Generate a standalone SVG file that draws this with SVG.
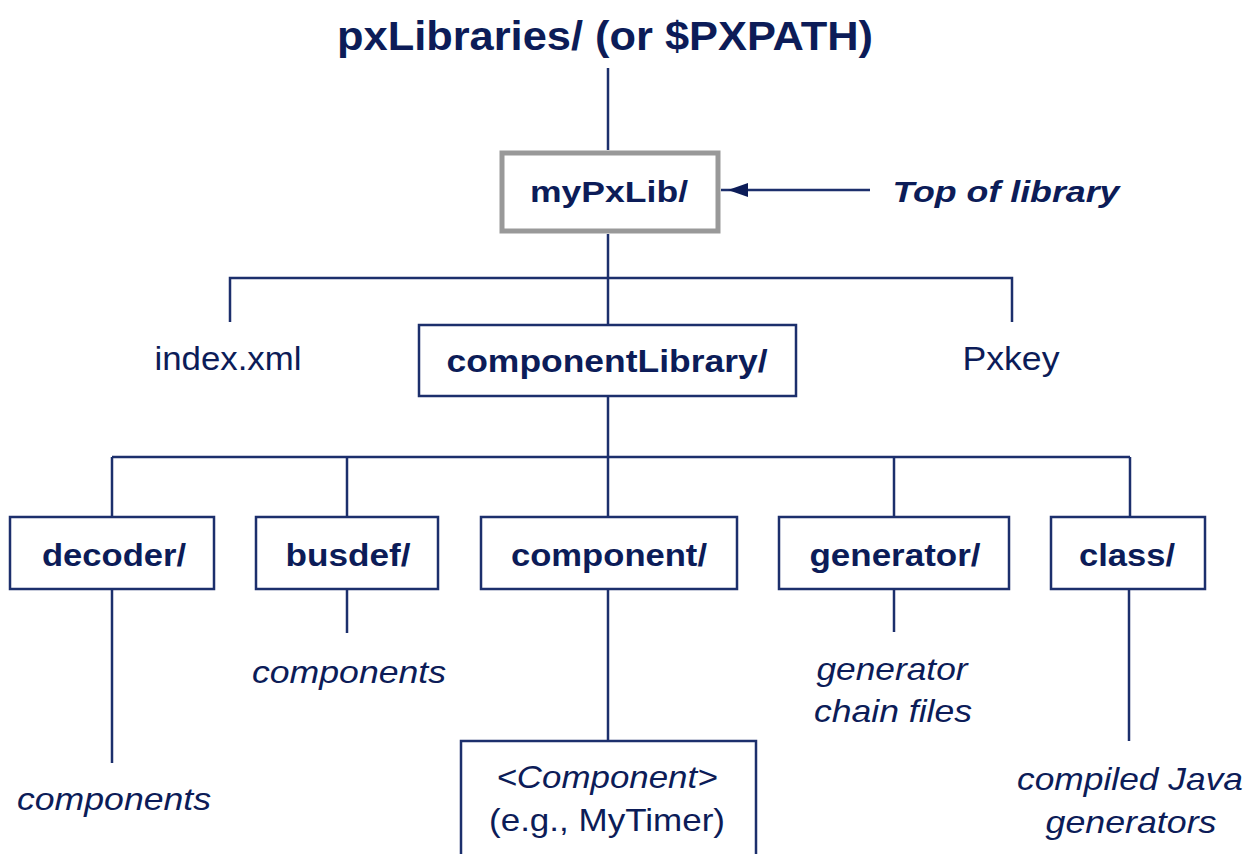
<svg xmlns="http://www.w3.org/2000/svg" width="1251" height="854" viewBox="0 0 1251 854">
<style>
  .t{font-family:"Liberation Sans",Arial,sans-serif;fill:#0c1c58;text-anchor:middle}
  .b{font-weight:bold}
  .i{font-style:italic}
  .box{fill:#fff;stroke:#1c2f6c;stroke-width:2.5}
  .ln{stroke:#1c2f6c;stroke-width:2.5;fill:none}
</style>
<defs>
  <marker id="ah" markerUnits="userSpaceOnUse" viewBox="-30 -10 30 20" refX="0" refY="0" markerWidth="30" markerHeight="20" orient="auto" overflow="visible">
    <path d="M-7,0 L-27,-7 L-27,7 z" fill="#0c1c58"/>
  </marker>
</defs>
<rect width="1251" height="854" fill="#fff"/>
<g id="connectors">
  <line class="ln" x1="608" y1="68" x2="608" y2="150"/>
  <line class="ln" x1="608" y1="234" x2="608" y2="325"/>
  <polyline class="ln" points="230,322 230,278 1012,278 1012,322"/>
  <line class="ln" x1="608" y1="396" x2="608" y2="517"/>
  <line class="ln" x1="112" y1="457" x2="1130" y2="457"/>
  <line class="ln" x1="112" y1="457" x2="112" y2="517"/>
  <line class="ln" x1="347" y1="457" x2="347" y2="517"/>
  <line class="ln" x1="894" y1="457" x2="894" y2="517"/>
  <line class="ln" x1="1130" y1="457" x2="1130" y2="517"/>
  <line class="ln" x1="112" y1="589" x2="112" y2="763"/>
  <line class="ln" x1="347" y1="589" x2="347" y2="633"/>
  <line class="ln" x1="608" y1="589" x2="608" y2="741"/>
  <line class="ln" x1="894" y1="589" x2="894" y2="632"/>
  <line class="ln" x1="1129" y1="589" x2="1129" y2="741"/>
  <line class="ln" x1="870" y1="190" x2="721" y2="190" marker-end="url(#ah)"/>
</g>
<g id="root"><text class="t b" x="605" y="50" font-size="40" textLength="536" lengthAdjust="spacingAndGlyphs">pxLibraries/ (or $PXPATH)</text></g>
<g id="myPxLib">
  <rect x="502" y="153" width="216" height="78" fill="#fff" stroke="#999" stroke-width="5"/>
  <text class="t b" x="609" y="202" font-size="30" textLength="158" lengthAdjust="spacingAndGlyphs">myPxLib/</text>
</g>
<g id="toplabel"><text class="t b i" x="1006" y="202" font-size="30" textLength="227" lengthAdjust="spacingAndGlyphs">Top of library</text></g>
<g id="index"><text class="t" x="228" y="370" font-size="34" textLength="147" lengthAdjust="spacingAndGlyphs">index.xml</text></g>
<g id="pxkey"><text class="t" x="1011" y="370" font-size="34" textLength="97" lengthAdjust="spacingAndGlyphs">Pxkey</text></g>
<g id="componentLibrary">
  <rect class="box" x="419" y="325" width="377" height="71"/>
  <text class="t b" x="607" y="372" font-size="32" textLength="321" lengthAdjust="spacingAndGlyphs">componentLibrary/</text>
</g>
<g id="decoder">
  <rect class="box" x="10" y="517" width="204" height="72"/>
  <text class="t b" x="114" y="566" font-size="32" textLength="144" lengthAdjust="spacingAndGlyphs">decoder/</text>
</g>
<g id="busdef">
  <rect class="box" x="256" y="517" width="182" height="72"/>
  <text class="t b" x="348" y="566" font-size="32" textLength="125" lengthAdjust="spacingAndGlyphs">busdef/</text>
</g>
<g id="component">
  <rect class="box" x="481" y="517" width="256" height="72"/>
  <text class="t b" x="609" y="566" font-size="32" textLength="196" lengthAdjust="spacingAndGlyphs">component/</text>
</g>
<g id="generator">
  <rect class="box" x="779" y="517" width="230" height="72"/>
  <text class="t b" x="895" y="566" font-size="32" textLength="171" lengthAdjust="spacingAndGlyphs">generator/</text>
</g>
<g id="class">
  <rect class="box" x="1051" y="517" width="154" height="72"/>
  <text class="t b" x="1127" y="566" font-size="32" textLength="96" lengthAdjust="spacingAndGlyphs">class/</text>
</g>
<g id="decoder-components"><text class="t i" x="114" y="810" font-size="32" textLength="194" lengthAdjust="spacingAndGlyphs">components</text></g>
<g id="busdef-components"><text class="t i" x="349" y="683" font-size="32" textLength="194" lengthAdjust="spacingAndGlyphs">components</text></g>
<g id="component-item">
  <path class="ln" d="M461,856 L461,741 L756,741 L756,856" style="fill:#fff"/>
  <text class="t i" x="607" y="788" font-size="32" textLength="221" lengthAdjust="spacingAndGlyphs">&lt;Component&gt;</text>
  <text class="t" x="607" y="831" font-size="32" textLength="236" lengthAdjust="spacingAndGlyphs">(e.g., MyTimer)</text>
</g>
<g id="generator-files">
  <text class="t i" x="892" y="680" font-size="32" textLength="151" lengthAdjust="spacingAndGlyphs">generator</text>
  <text class="t i" x="893" y="722" font-size="32" textLength="158" lengthAdjust="spacingAndGlyphs">chain files</text>
</g>
<g id="class-files">
  <text class="t i" x="1130" y="790" font-size="32" textLength="226" lengthAdjust="spacingAndGlyphs">compiled Java</text>
  <text class="t i" x="1131" y="833" font-size="32" textLength="171" lengthAdjust="spacingAndGlyphs">generators</text>
</g>
</svg>
